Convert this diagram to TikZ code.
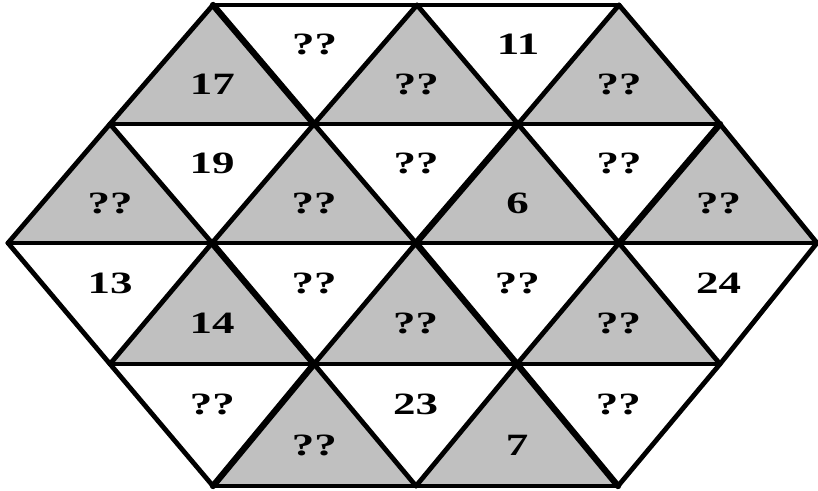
\documentclass[tikz,border=0pt]{standalone}
\usepackage{fontspec}
\setmainfont{Liberation Serif}
\definecolor{cellgray}{RGB}{192,192,192}
\tikzset{
  edge/.style={draw=black,line width=4.8pt,line join=round,line cap=round},
  thickedge/.style={draw=black,line width=6.3pt,line cap=round},
  lab/.style={inner sep=0pt,font=\fontsize{31}{32}\selectfont\bfseries}
}
\newcommand{\mytri}[5]{%
  \path[fill=#1] (#2) -- (#3) -- (#4) -- cycle;
  \node[lab] (L#2#3#4) at (barycentric cs:#2=1,#3=1,#4=1) {\scalebox{1.45}[1]{#5}};
}
\begin{document}
\begin{tikzpicture}[x=1pt,y=-1pt]
\useasboundingbox (0,0) rectangle (818,490);
\fill[white] (0,0) rectangle (818,490);
% lattice
\coordinate (p02) at (213,5);  \coordinate (p04) at (417,5);  \coordinate (p06) at (619,5);
\coordinate (p11) at (110,124); \coordinate (p13) at (314,124); \coordinate (p15) at (518,124); \coordinate (p17) at (720,124);
\coordinate (p20) at (8,243); \coordinate (p22) at (212,243); \coordinate (p24) at (416,243); \coordinate (p26) at (619,243); \coordinate (p28) at (817,243);
\coordinate (p31) at (110,364); \coordinate (p33) at (314,364); \coordinate (p35) at (517,364); \coordinate (p37) at (720,364);
\coordinate (p42) at (213,486); \coordinate (p44) at (416,486); \coordinate (p46) at (618,486);
% row 0
\mytri{cellgray}{p11}{p02}{p13}{17}
\mytri{white}{p02}{p04}{p13}{??}
\mytri{cellgray}{p13}{p04}{p15}{??}
\mytri{white}{p04}{p06}{p15}{11}
\mytri{cellgray}{p15}{p06}{p17}{??}
% row 1
\mytri{cellgray}{p20}{p11}{p22}{??}
\mytri{white}{p11}{p13}{p22}{19}
\mytri{cellgray}{p22}{p13}{p24}{??}
\mytri{white}{p13}{p15}{p24}{??}
\mytri{cellgray}{p24}{p15}{p26}{6}
\mytri{white}{p15}{p17}{p26}{??}
\mytri{cellgray}{p26}{p17}{p28}{??}
% row 2
\mytri{white}{p20}{p22}{p31}{13}
\mytri{cellgray}{p31}{p22}{p33}{14}
\mytri{white}{p22}{p24}{p33}{??}
\mytri{cellgray}{p33}{p24}{p35}{??}
\mytri{white}{p24}{p26}{p35}{??}
\mytri{cellgray}{p35}{p26}{p37}{??}
\mytri{white}{p26}{p28}{p37}{24}
% row 3
\mytri{white}{p31}{p33}{p42}{??}
\mytri{cellgray}{p42}{p33}{p44}{??}
\mytri{white}{p33}{p35}{p44}{23}
\mytri{cellgray}{p44}{p35}{p46}{7}
\mytri{white}{p35}{p37}{p46}{??}
% horizontal lines
\draw[edge] (p02) -- (p06);
\draw[edge] (p11) -- (p17);
\draw[edge] (p20) -- (p28);
\draw[edge] (p31) -- (p37);
\draw[edge] (p42) -- (p46);
% rising diagonals
\draw[edge] (p11) -- (p02);
\draw[edge] (p20) -- (p11);
\draw[edge] (p22) -- (p13) -- (p04);
\draw[edge] (p31) -- (p22);
\draw[edge] (p42) -- (p33) -- (p24) -- (p15) -- (p06);
\draw[edge] (p44) -- (p35) -- (p26) -- (p17);
\draw[edge] (p46) -- (p37) -- (p28);
% falling diagonals
\draw[edge] (p02) -- (p13) -- (p24) -- (p35) -- (p46);
\draw[edge] (p04) -- (p15) -- (p26) -- (p37);
\draw[edge] (p06) -- (p17) -- (p28);
\draw[edge] (p11) -- (p22) -- (p33) -- (p44);
\draw[edge] (p20) -- (p31) -- (p42);
% emphasised edges
\draw[thickedge] (p02) -- (p13);
\draw[thickedge] (p24) -- (p15);
\draw[thickedge] (p26) -- (p17);
\draw[thickedge] (p22) -- (p33);
\draw[thickedge] (p42) -- (p33);
\draw[thickedge] (p24) -- (p35);
\draw[thickedge] (p35) -- (p46);
\end{tikzpicture}
\end{document}
